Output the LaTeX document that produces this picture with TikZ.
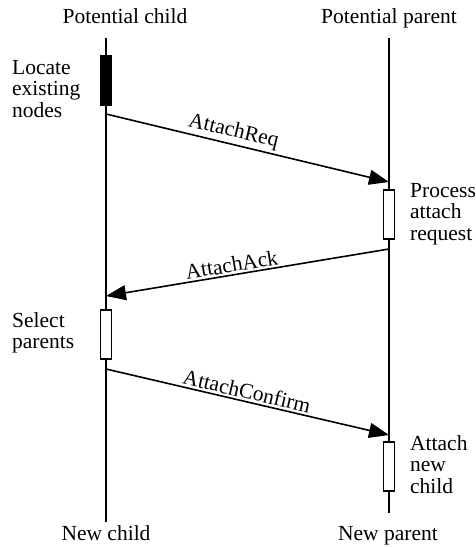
\documentclass[tikz,border=0pt]{standalone}
\usepackage{fontspec}
\setmainfont{Liberation Serif}
\usetikzlibrary{arrows.meta}
\begin{document}
\begin{tikzpicture}[x=1pt,y=-1pt,
  lifeline/.style={line width=1.3pt},
  msg/.style={line width=1.6pt,-{Triangle[length=20pt,width=15pt]}},
  actbox/.style={draw,line width=1.3pt,fill=white,minimum width=11pt,minimum height=49pt,inner sep=0pt},
  busybox/.style={actbox,fill=black},
  txt/.style={font=\fontsize{21.5}{21.5}\selectfont,inner sep=0pt},
  side/.style={txt,anchor=north west,align=left},
  msglabel/.style={txt,sloped,above=2pt}]
\useasboundingbox (0,0) rectangle (475,547);

% participants
\node[txt,anchor=base] (pc) at (125,23) {Potential child};
\node[txt,anchor=base] (pp) at (389,23) {Potential parent};
\node[txt,anchor=base] (nc) at (106,540) {New child};
\node[txt,anchor=base] (np) at (388,540) {New parent};

% lifelines
\coordinate (ctop) at (106,38);
\coordinate (cbot) at (106,522);
\coordinate (ptop) at (389,38);
\coordinate (pbot) at (389,513);
\draw[lifeline] (ctop) -- (cbot);
\draw[lifeline] (ptop) -- (pbot);

% activations
\node[busybox] (locate) at (106,80.5) {};
\node[actbox] (process) at (389,214.5) {};
\node[actbox] (select) at (106,334.5) {};
\node[actbox] (attach) at (389,466.5) {};

% messages
\coordinate (m1s) at (106,114);
\coordinate (m1e) at (389,182);
\coordinate (m2s) at (389,249);
\coordinate (m2e) at (106,296);
\coordinate (m3s) at (106,369);
\coordinate (m3e) at (389,435);
\draw[msg] (m1s) -- node[msglabel,pos=0.44] {AttachReq} (m1e);
\draw[msg] (m2s) -- node[msglabel,pos=0.55] {AttachAck} (m2e);
\draw[msg] (m3s) -- node[msglabel,pos=0.49] {AttachConfirm} (m3e);

% activity descriptions
\node[side] (t1) at (12,60) {Locate\\existing\\nodes};
\node[side] (t2) at (410,183) {Process\\attach\\request};
\node[side] (t3) at (12,312) {Select\\parents};
\node[side] (t4) at (410,435) {Attach\\new\\child};
\end{tikzpicture}
\end{document}
